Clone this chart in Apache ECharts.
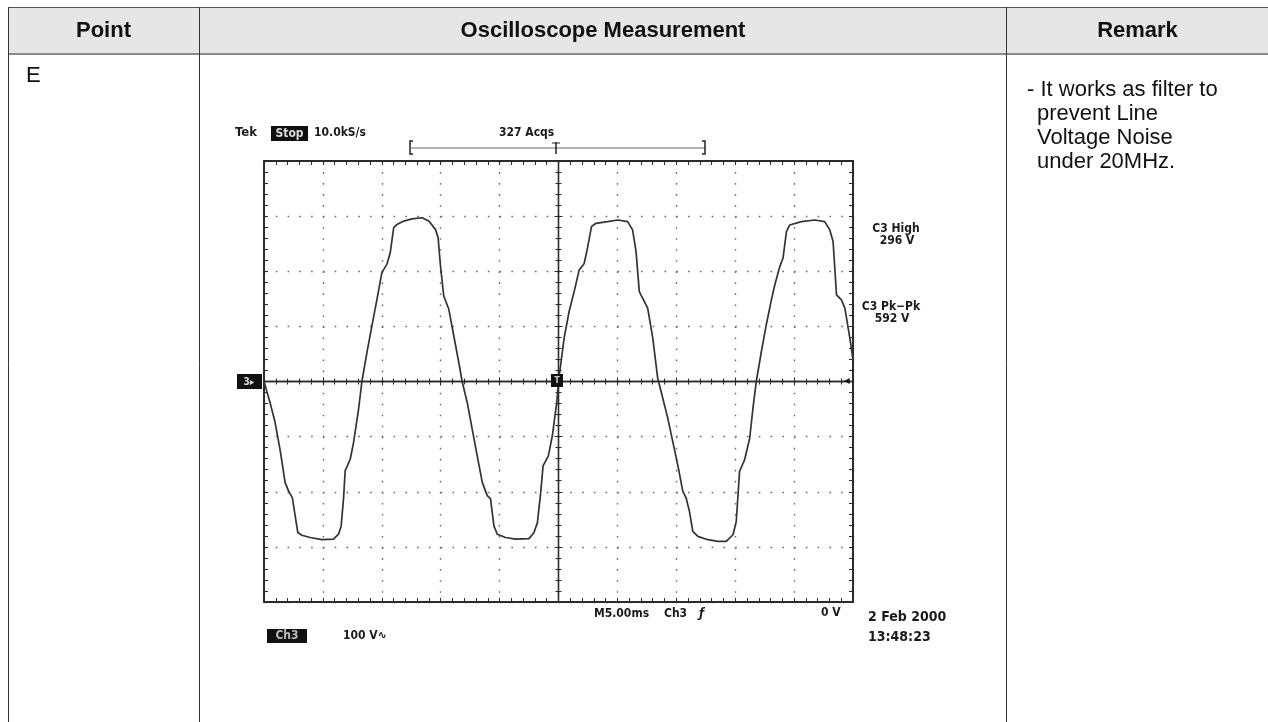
<!DOCTYPE html>
<html>
<head>
<meta charset="utf-8">
<script src="https://cdn.jsdelivr.net/npm/echarts@6/dist/echarts.min.js"></script>
<style>
html,body{margin:0;padding:0;background:#fff;}
#c{width:1268px;height:722px;}
</style>
</head>
<body>
<div id="c"></div>
<script>
// ---- Data (time in ms relative to trigger, CH3 in volts) ----
const timeMs = [
  -25.0,-24.49,-24.06,-23.64,-23.21,-22.93,-22.59,-22.36,-22.13,-21.79,-21.08,-20.09,-19.10,-18.67,-18.45,-18.25,-18.11,-17.68,-17.40,-16.97,
  -16.69,-16.26,-15.84,-15.41,-14.99,-14.56,-14.28,-13.99,-13.71,-13.14,-12.43,-11.58,-11.01,-10.45,-10.22,-10.02,-9.74,-9.31,-8.89,-8.46,
  -8.18,-7.75,-7.33,-6.90,-6.47,-6.05,-5.77,-5.48,-5.20,-4.49,-3.64,-2.50,-2.08,-1.79,-1.51,-1.31,-0.86,-0.52,-0.15,0.0,
  0.48,0.90,1.33,1.75,2.18,2.46,2.80,3.17,4.16,5.02,5.87,6.29,6.58,6.86,7.29,7.57,8.00,8.42,8.71,9.27,
  9.70,10.12,10.55,10.83,11.12,11.40,11.83,12.68,13.53,14.24,14.81,15.09,15.37,15.80,16.23,16.51,16.79,17.22,17.64,18.07,
  18.36,18.78,19.06,19.35,19.63,20.62,21.75,22.60,23.03,23.31,23.60,24.02,24.31,24.73,25.0
];
const ch3Volts = [
  0,-38,-74,-123,-183,-198,-211,-243,-274,-279,-283,-287,-286,-277,-262,-213,-162,-141,-111,-50,
  0,53,101,149,198,213,234,279,285,291,295,297,291,276,261,210,155,131,83,34,
  0,-38,-86,-135,-183,-207,-213,-262,-277,-283,-286,-285,-274,-256,-201,-153,-135,-98,-38,0,
  79,127,163,202,214,242,281,287,290,293,290,275,236,163,145,133,79,6,-18,-66,
  -109,-151,-199,-211,-236,-272,-281,-287,-290,-290,-278,-254,-163,-142,-103,-48,0,54,103,148,
  175,208,224,272,284,290,293,290,275,254,157,148,133,79,39
];

// ---- Texts ----
const headers = ['Point', 'Oscilloscope Measurement', 'Remark'];
const pointLabel = 'E';
const remarkLines = ['- It works as filter to', 'prevent Line', 'Voltage Noise', 'under 20MHz.'];
const scopeTop = ['Tek', 'Stop', '10.0kS/s', '327 Acqs'];
const measLabels = ['C3 High', '296 V', 'C3 Pk\u2212Pk', '592 V'];
const scopeBottom = ['M5.00ms', 'Ch3', '\u0192', '0 V', '2 Feb 2000', '13:48:23', 'Ch3', '100 V\u223F'];

// ---- Scale ----
const xMin = -25, xMax = 25, xDiv = 5;
const yMin = -400, yMax = 400, yDiv = 100;

const seriesData = timeMs.map((t, i) => [t, ch3Volts[i]]);

const GL = 264, GT = 161, GW = 589, GH = 441;
const ink = '#2b2b2b';
const scopeFont = "'DejaVu Sans Condensed','DejaVu Sans',sans-serif";
const docFont = "'Liberation Sans',Arial,sans-serif";

function xAx(extra) {
  return Object.assign({
    type: 'value', min: xMin, max: xMax, interval: xDiv,
    axisLabel: { show: false },
    splitLine: { show: false },
    minorTick: { show: true, splitNumber: 5, length: 3, lineStyle: { color: ink, width: 1 } },
    axisTick: { show: true, length: 4, lineStyle: { color: ink, width: 1 } },
    axisLine: { show: true, onZero: false, lineStyle: { color: ink, width: 1.5 } }
  }, extra);
}
function yAx(extra) {
  return Object.assign({
    type: 'value', min: yMin, max: yMax, interval: yDiv,
    axisLabel: { show: false },
    splitLine: { show: false },
    minorTick: { show: true, splitNumber: 5, length: 3, lineStyle: { color: ink, width: 1 } },
    axisTick: { show: true, length: 4, lineStyle: { color: ink, width: 1 } },
    axisLine: { show: true, onZero: false, lineStyle: { color: ink, width: 1.5 } }
  }, extra);
}

const dotH = [1.6, 11.78 - 1.6];
const dotV = [1.6, 11.03 - 1.6];

const option = {
  animation: false,
  backgroundColor: '#ffffff',
  grid: { left: GL, top: GT, width: GW, height: GH, show: false },
  xAxis: [
    xAx({ position: 'bottom',
      axisLine: { show: true, onZero: true, onZeroAxisIndex: 0, lineStyle: { color: ink, width: 1.3 } },
      axisTick: { show: true, inside: false, length: 4, lineStyle: { color: ink } },
      minorTick: { show: true, splitNumber: 5, length: 3, lineStyle: { color: ink } },
      splitLine: { show: true, lineStyle: { color: '#6a6a6a', width: 1.4, type: dotV } } }),
    xAx({ position: 'bottom',
      axisLine: { show: true, onZero: true, onZeroAxisIndex: 0, lineStyle: { color: ink, width: 1.3 } },
      axisTick: { show: true, inside: true, length: 4, lineStyle: { color: ink } },
      minorTick: { show: true, splitNumber: 5, length: 3, lineStyle: { color: ink } } }),
    xAx({ position: 'top', axisTick: { show: true, inside: true, length: 4, lineStyle: { color: ink } },
      minorTick: { show: true, splitNumber: 5, length: 4, lineStyle: { color: ink } },
      axisLine: { show: true, onZero: false, lineStyle: { color: ink, width: 2 } } }),
    xAx({ position: 'bottom', axisTick: { show: true, inside: true, length: 4, lineStyle: { color: ink } },
      minorTick: { show: true, splitNumber: 5, length: 4, lineStyle: { color: ink } },
      axisLine: { show: true, onZero: false, lineStyle: { color: ink, width: 2 } } })
  ],
  yAxis: [
    yAx({ position: 'left',
      axisLine: { show: true, onZero: true, onZeroAxisIndex: 0, lineStyle: { color: ink, width: 1.3 } },
      axisTick: { show: true, inside: false, length: 4, lineStyle: { color: ink } },
      minorTick: { show: true, splitNumber: 5, length: 3, lineStyle: { color: ink } },
      splitLine: { show: true, lineStyle: { color: '#6a6a6a', width: 1.4, type: dotH } } }),
    yAx({ position: 'left',
      axisLine: { show: true, onZero: true, onZeroAxisIndex: 0, lineStyle: { color: ink, width: 1.3 } },
      axisTick: { show: true, inside: true, length: 4, lineStyle: { color: ink } },
      minorTick: { show: true, splitNumber: 5, length: 3, lineStyle: { color: ink } } }),
    yAx({ position: 'left', axisTick: { show: true, inside: true, length: 4, lineStyle: { color: ink } },
      minorTick: { show: true, splitNumber: 5, length: 4, lineStyle: { color: ink } },
      axisLine: { show: true, onZero: false, lineStyle: { color: ink, width: 2 } } }),
    yAx({ position: 'right', axisTick: { show: true, inside: true, length: 4, lineStyle: { color: ink } },
      minorTick: { show: true, splitNumber: 5, length: 4, lineStyle: { color: ink } },
      axisLine: { show: true, onZero: false, lineStyle: { color: ink, width: 2 } } })
  ],
  series: [{
    type: 'line', xAxisIndex: 0, yAxisIndex: 0,
    data: seriesData, showSymbol: false, smooth: false,
    lineStyle: { color: '#333333', width: 1.7 }, z: 5
  }],
  graphic: []
};

const G = option.graphic;
// ---- Table ----
G.push({ type: 'rect', shape: { x: 8, y: 7, width: 1260, height: 47 }, style: { fill: '#e6e6e6' }, z: -10 });
G.push({ type: 'line', shape: { x1: 8, y1: 7.5, x2: 1268, y2: 7.5 }, style: { stroke: '#555', lineWidth: 1 } });
G.push({ type: 'line', shape: { x1: 8, y1: 54, x2: 1268, y2: 54 }, style: { stroke: '#8a8a8a', lineWidth: 2 } });
[8.5, 199.5, 1006.5].forEach(x => G.push({ type: 'line', shape: { x1: x, y1: 7, x2: x, y2: 722 }, style: { stroke: '#333', lineWidth: 1 } }));
const hx = [103.5, 603, 1137.5];
headers.forEach((h, i) => G.push({ type: 'text', x: hx[i], y: 31,
  style: { text: h, fill: '#111', font: 'bold 22px ' + docFont, textAlign: 'center', textVerticalAlign: 'middle' } }));
G.push({ type: 'text', x: 26, y: 76, style: { text: pointLabel, fill: '#111', font: '22px ' + docFont, textVerticalAlign: 'middle' } });
remarkLines.forEach((t, i) => G.push({ type: 'text', x: i === 0 ? 1027 : 1037, y: 90 + i * 24,
  style: { text: t, fill: '#111', font: '22px ' + docFont, textVerticalAlign: 'middle' } }));

// ---- Scope annotations ----
function st(txt, x, y, opts) {
  G.push({ type: 'text', x: x, y: y, z: 10, style: Object.assign({ text: txt, fill: '#1a1a1a',
    font: 'bold 12px ' + scopeFont, textVerticalAlign: 'middle' }, opts || {}) });
}
function box(x, y, w, h) {
  G.push({ type: 'rect', z: 9, shape: { x: x, y: y, width: w, height: h }, style: { fill: '#111' } });
}
st(scopeTop[0], 235, 133, { font: 'bold 13px ' + scopeFont });
box(271, 126, 37, 15);
st(scopeTop[1], 289.5, 133.5, { fill: '#ddd', textAlign: 'center' });
st(scopeTop[2], 314, 133);
st(scopeTop[3], 499, 133);
// acquisition record bracket
G.push({ type: 'polyline', shape: { points: [[413, 141], [410, 141], [410, 154], [413, 154]] }, style: { stroke: '#222', lineWidth: 1.5, fill: null } });
G.push({ type: 'line', shape: { x1: 410, y1: 148, x2: 705, y2: 148 }, style: { stroke: '#666', lineWidth: 1 } });
G.push({ type: 'polyline', shape: { points: [[702, 141], [705, 141], [705, 154], [702, 154]] }, style: { stroke: '#222', lineWidth: 1.5, fill: null } });
G.push({ type: 'line', shape: { x1: 556, y1: 142, x2: 556, y2: 154 }, style: { stroke: '#222', lineWidth: 1.5 } });
G.push({ type: 'line', shape: { x1: 552, y1: 143, x2: 560, y2: 143 }, style: { stroke: '#222', lineWidth: 1 } });

st(measLabels[0], 896, 229, { textAlign: 'center' });
st(measLabels[1], 897, 241, { textAlign: 'center' });
st(measLabels[2], 891, 307, { textAlign: 'center' });
st(measLabels[3], 892, 319, { textAlign: 'center' });

// channel / trigger markers
box(237, 374, 25, 15);
st('3\u25B8', 249, 382, { fill: '#ddd', textAlign: 'center', font: 'bold 10px ' + scopeFont });
box(551, 374, 12, 13);
st('T', 557, 381, { fill: '#ccc', textAlign: 'center', font: 'bold 9px ' + scopeFont });
st('\u25C2', 847, 381, { fill: '#111', textAlign: 'center', font: 'bold 12px ' + scopeFont });

// bottom readouts
st(scopeBottom[0], 594, 614);
st(scopeBottom[1], 664, 614);
st(scopeBottom[2], 699, 614, { font: 'bold italic 13px ' + scopeFont });
st(scopeBottom[3], 821, 613);
st(scopeBottom[4], 868, 617, { font: 'bold 14px ' + scopeFont });
st(scopeBottom[5], 868, 637, { font: 'bold 14px ' + scopeFont });
box(267, 629, 40, 14);
st(scopeBottom[6], 287, 636, { fill: '#bbb', textAlign: 'center' });
st(scopeBottom[7], 343, 636);

const chart = echarts.init(document.getElementById('c'), null, { renderer: 'canvas' });
chart.setOption(option);
</script>
</body>
</html>
